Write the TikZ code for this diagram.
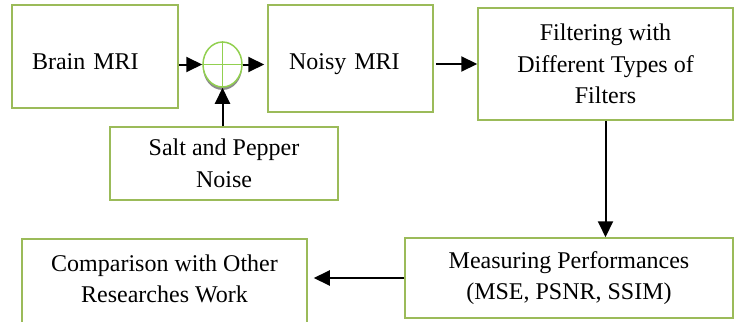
\documentclass[tikz,border=0pt]{standalone}
\usepackage{fontspec}
\setmainfont{Liberation Serif}
\usepackage{tikz}
\usetikzlibrary{arrows.meta}
\usetikzlibrary{shapes}
\usetikzlibrary{shadows}
\definecolor{boxgreen}{RGB}{155,187,89}
\definecolor{sumgreen}{RGB}{146,208,80}
\tikzset{mybox/.style={draw=boxgreen, line width=1.5pt, inner sep=0pt, align=center, font=\fontsize{24}{31.5}\selectfont}}
\tikzset{myboxLeft/.style={mybox, align=left, text depth=0pt}}
\tikzset{mysum/.style={ellipse, draw=sumgreen, line width=1.5pt, fill=white, inner sep=0pt, minimum width=39pt, minimum height=45pt, drop shadow={shadow xshift=0pt, shadow yshift=-3pt, fill=gray, opacity=0.9}}}
\tikzset{myarrow/.style={-{Triangle[length=16pt, width=15pt]}, line width=2pt}}

\begin{document}
\begin{tikzpicture}[x=1pt, y=-1pt]

\clip (0,0) rectangle (735,321);

\node[myboxLeft, minimum width=166pt, minimum height=103pt, inner xsep=20pt, text width=126pt, text height=25pt] (brain) at (95, 56.5) {Brain MRI};
\node[myboxLeft, minimum width=165pt, minimum height=107pt, inner xsep=21pt, text width=123pt, text height=21pt] (noisy) at (350.5, 58.5) {Noisy MRI};
\node[mybox, minimum width=255pt, minimum height=112pt] (filter) at (605.5, 64) {Filtering with\\Different Types of\\Filters};
\node[mybox, minimum width=228pt, minimum height=73pt] (salt) at (224, 163.5) {Salt and Pepper\\Noise};
\node[mybox, minimum width=328pt, minimum height=80pt] (measure) at (569, 278) {Measuring Performances\\(MSE, PSNR, SSIM)};
\node[mybox, minimum width=285pt, minimum height=91pt, text depth=12pt] (compare) at (164.5, 284.5) {Comparison with Other\\Researches Work};

\node[mysum] (sum) at (222.5, 64.5) {};
\draw[sumgreen, line width=1.5pt] (sum.north) -- (sum.south) (sum.west) -- (sum.east);

\draw[myarrow] (brain.east |- sum) to (sum.west);
\draw[myarrow, shorten >=3pt] (sum.east) to (noisy.west |- sum);
\draw[myarrow, shorten <=2pt] (noisy.east |- filter) to (filter.west);
\draw[myarrow] (salt.north -| sum) to (sum.south);
\draw[myarrow] (filter.south) to (filter.south |- measure.north);
\draw[myarrow, shorten >=6pt] (measure.west) to (measure.west -| compare.east);

\end{tikzpicture}
\end{document}
